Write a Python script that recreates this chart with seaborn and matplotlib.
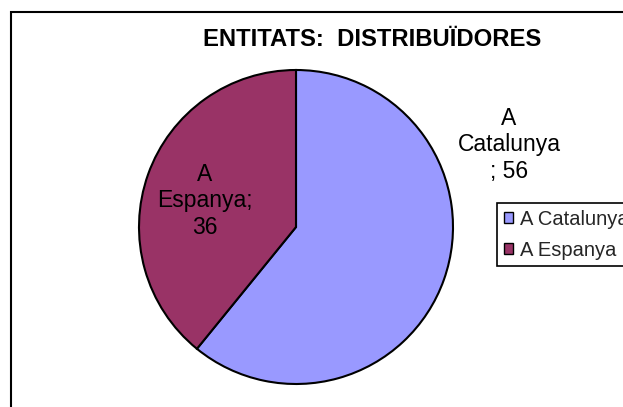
import matplotlib
matplotlib.use("Agg")
import matplotlib.pyplot as plt
from matplotlib.patches import Rectangle
import seaborn as sns

# --- dades ---
categories = ["A Catalunya", "A Espanya"]
values = [56, 36]
colors = ["#9999FF", "#993366"]
title = "ENTITATS:  DISTRIBUÏDORES"

sns.set_theme(style="white")
plt.rcParams["font.family"] = ["Liberation Sans", "DejaVu Sans"]

W, H = 623, 407
fig = plt.figure(figsize=(W / 100, H / 100), dpi=100)

# pastís: centre (296, 227) px, radi 157 px
cx, cy, r = 296, 227, 157
ax = fig.add_axes([(cx - r) / W, (H - cy - r) / H, 2 * r / W, 2 * r / H])
wedges, _ = ax.pie(
    values,
    colors=colors,
    startangle=90,
    counterclock=False,
    radius=1,
    wedgeprops=dict(edgecolor="black", linewidth=1.5),
)
ax.set_xlim(-1, 1)
ax.set_ylim(-1, 1)
ax.set_aspect("equal")
ax.axis("off")

# etiquetes de dades
fig.text(509 / W, 1 - 145 / H, "A\nCatalunya\n; " + str(values[0]),
         ha="center", va="center", fontsize=16.5, linespacing=1.2, color="black")
fig.text(205 / W, 1 - 201 / H, "A\nEspanya;\n" + str(values[1]),
         ha="center", va="center", fontsize=16.5, linespacing=1.2, color="black")

# títol
fig.text(372 / W, 1 - 40 / H, title, ha="center", va="center",
         fontsize=17.2, fontweight="bold", color="black")

# llegenda (queda tallada pel marge dret, com a l'original)
leg = fig.legend(wedges, categories, loc="upper left",
                 bbox_to_anchor=(497 / W, 1 - 203 / H),
                 frameon=True, fancybox=False, edgecolor="black", framealpha=1,
                 fontsize=14.5, handlelength=0.45, handleheight=0.45,
                 handletextpad=0.35, borderpad=0.33, labelspacing=0.6,
                 borderaxespad=0)
leg.get_frame().set_linewidth(1.2)
for h in leg.legend_handles:
    h.set_linewidth(1)

# marc de l'àrea del gràfic
fig.add_artist(Rectangle((11 / W, -0.1), 1.2, (H - 12) / H + 0.1,
                         transform=fig.transFigure, fill=False,
                         edgecolor="black", linewidth=1.5, clip_on=False))

fig.savefig("out.png", dpi=100)
